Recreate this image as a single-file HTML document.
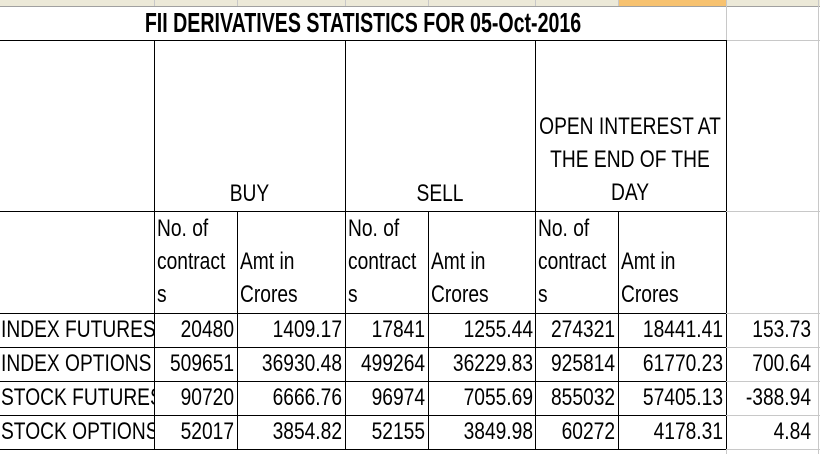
<!DOCTYPE html>
<html><head><meta charset="utf-8"><style>
body{margin:0;width:820px;height:454px;overflow:hidden;background:#fff;position:relative;font-family:"Liberation Sans",sans-serif;color:#000}
.a{position:absolute}
.h{position:absolute;background:#000;height:1px}
.v{position:absolute;background:#000;width:1px}
.g{background:#c8c8c8}
.t{position:absolute;font-size:24px;line-height:33px;white-space:nowrap;transform:scaleX(0.8);transform-origin:left top}
.r{text-align:right;transform-origin:right top}
.c{text-align:center;transform-origin:center top}
</style></head><body>
<div class="a" style="left:0;top:0;width:820px;height:6px;background:#ece9d8;border-bottom:1px solid #a0a0a0"></div>
<div class="a" style="left:618px;top:0;width:108px;height:6px;background:#f7c270"></div>
<div class="v g" style="left:154px;top:0;height:6px"></div>
<div class="v g" style="left:237px;top:0;height:6px"></div>
<div class="v g" style="left:345px;top:0;height:6px"></div>
<div class="v g" style="left:428px;top:0;height:6px"></div>
<div class="v g" style="left:535px;top:0;height:6px"></div>
<div class="v g" style="left:618px;top:0;height:6px"></div>
<div class="v g" style="left:726px;top:0;height:454px"></div>
<div class="v g" style="left:818px;top:0;height:454px"></div>
<div class="t c" style="left:0;width:726px;top:6px;font-weight:bold;font-size:28px;line-height:34px;transform:scaleX(0.7)">FII DERIVATIVES STATISTICS FOR 05-Oct-2016</div>
<div class="h" style="left:0;top:40px;width:726px"></div>
<div class="h g" style="left:726px;top:40px;width:94px"></div>
<div class="v" style="left:154px;top:40px;height:409px"></div>
<div class="v" style="left:345px;top:40px;height:409px"></div>
<div class="v" style="left:535px;top:40px;height:409px"></div>
<div class="v" style="left:726px;top:40px;height:409px"></div>
<div class="v" style="left:237px;top:211px;height:238px"></div>
<div class="v" style="left:428px;top:211px;height:238px"></div>
<div class="v" style="left:618px;top:211px;height:238px"></div>
<div class="h" style="left:0;top:211px;width:726px"></div>
<div class="h g" style="left:726px;top:211px;width:94px"></div>
<div class="h" style="left:0;top:313px;width:726px"></div>
<div class="h" style="left:0;top:347px;width:726px"></div>
<div class="h" style="left:0;top:381px;width:726px"></div>
<div class="h" style="left:0;top:415px;width:726px"></div>
<div class="h" style="left:0;top:449px;width:726px"></div>
<div class="h g" style="left:726px;top:313px;width:94px"></div>
<div class="h g" style="left:726px;top:347px;width:94px"></div>
<div class="h g" style="left:726px;top:381px;width:94px"></div>
<div class="h g" style="left:726px;top:415px;width:94px"></div>
<div class="h g" style="left:726px;top:449px;width:94px"></div>

<div class="t c" style="left:154px;width:191px;top:177px">BUY</div>
<div class="t c" style="left:345px;width:190px;top:177px">SELL</div>
<div class="t c" style="left:510px;width:240px;top:110px">OPEN INTEREST AT<br>THE END OF THE<br>DAY</div>

<div class="t" style="left:157px;top:212px">No. of<br>contract<br>s</div>
<div class="t" style="left:240px;top:245px">Amt in<br>Crores</div>
<div class="t" style="left:348px;top:212px">No. of<br>contract<br>s</div>
<div class="t" style="left:431px;top:245px">Amt in<br>Crores</div>
<div class="t" style="left:538px;top:212px">No. of<br>contract<br>s</div>
<div class="t" style="left:621px;top:245px">Amt in<br>Crores</div>

<div class="a" style="left:0;top:313px;width:154px;height:136px;overflow:hidden"><div class="t" style="left:1px;top:0;line-height:34px">INDEX FUTURES<br>INDEX OPTIONS<br>STOCK FUTURES<br>STOCK OPTIONS</div></div>
<div class="t r" style="left:154px;width:80px;top:313px;line-height:34px">20480<br>509651<br>90720<br>52017</div>
<div class="t r" style="left:237px;width:105px;top:313px;line-height:34px">1409.17<br>36930.48<br>6666.76<br>3854.82</div>
<div class="t r" style="left:345px;width:80px;top:313px;line-height:34px">17841<br>499264<br>96974<br>52155</div>
<div class="t r" style="left:428px;width:105px;top:313px;line-height:34px">1255.44<br>36229.83<br>7055.69<br>3849.98</div>
<div class="t r" style="left:535px;width:80px;top:313px;line-height:34px">274321<br>925814<br>855032<br>60272</div>
<div class="t r" style="left:618px;width:105px;top:313px;line-height:34px">18441.41<br>61770.23<br>57405.13<br>4178.31</div>
<div class="t r" style="left:726px;width:85px;top:313px;line-height:34px">153.73<br>700.64<br>-388.94<br>4.84</div>
</body></html>
